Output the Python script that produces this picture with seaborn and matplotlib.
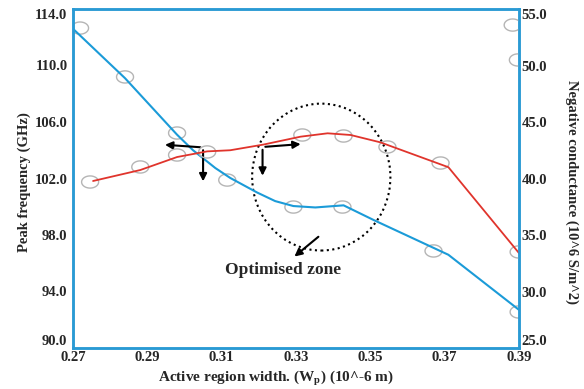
import numpy as np
import pandas as pd
import seaborn as sns
import matplotlib.pyplot as plt
from matplotlib.patches import Ellipse
from matplotlib.path import Path

# line traces
width_blue = [0.270, 0.284, 0.298, 0.3023, 0.3083, 0.3123, 0.3196, 0.3244, 0.3293, 0.3352, 0.3428, 0.3509, 0.371, 0.390]
freq_blue = [112.6, 109.1, 105.1, 104.0, 102.74, 102.04, 101.0, 100.4, 100.05, 99.95, 100.1, 99.06, 96.6, 92.7]
width_red = [0.2754, 0.2881, 0.298, 0.3061, 0.3123, 0.3212, 0.3312, 0.3385, 0.3447, 0.3527, 0.371, 0.390]
cond_red = [39.78, 40.75, 41.9, 42.4, 42.5, 43.0, 43.7, 44.0, 43.85, 43.2, 41.0, 33.4]

# grey circle markers (slightly off the lines in the original)
mk_blue_x = [0.2719, 0.2840, 0.2980, 0.3115, 0.3293, 0.3425, 0.3670, 0.3899]
mk_blue_y = [112.65, 109.19, 105.22, 101.89, 99.98, 99.98, 96.87, 92.55]
mk_red_x = [0.2746, 0.2881, 0.2980, 0.3061, 0.3317, 0.3428, 0.3546, 0.3689, 0.3899, 0.3883, 0.3897]
mk_red_y = [39.69, 41.02, 42.08, 42.35, 43.85, 43.76, 42.79, 41.37, 33.50, 53.58, 50.49]

# axis ticks
x_ticks = [0.27, 0.29, 0.31, 0.33, 0.35, 0.37, 0.39]
freq_ticks = [90, 94, 98, 102, 106, 110, 114]
cond_ticks = [25, 30, 35, 40, 45, 50, 55]

blue = '#1b9bd8'
red = '#e0342c'
spine = '#2a9ad4'
grey = '#b5b5b5'

sns.set_style('white')
plt.rcParams['font.family'] = ['Liberation Serif', 'DejaVu Serif']
plt.rcParams['font.weight'] = 'bold'
plt.rcParams['mathtext.fontset'] = 'custom'
plt.rcParams['mathtext.rm'] = 'Liberation Serif:bold'
plt.rcParams['mathtext.it'] = 'Liberation Serif:bold'

fig = plt.figure(figsize=(5.84, 3.89), dpi=100)
ax = fig.add_axes([73 / 584, 41 / 389, 446 / 584, 339 / 389])
ax2 = ax.twinx()

# ellipse shaped marker
t = np.linspace(0, 2 * np.pi, 60)
oval = Path(np.column_stack([1.4 * np.cos(t), np.sin(t)]))

sns.lineplot(x=width_blue, y=freq_blue, ax=ax, color=blue, lw=1.5)
ax.scatter(mk_blue_x, mk_blue_y, marker=oval, s=150, facecolors='none', edgecolors=grey, lw=1, zorder=1)
sns.lineplot(x=width_red, y=cond_red, ax=ax2, color=red, lw=1.3)
ax2.scatter(mk_red_x, mk_red_y, marker=oval, s=150, facecolors='none', edgecolors=grey, lw=1, zorder=1)

ax.set_xlim(0.27, 0.39)
ax.set_ylim(90, 114)
ax2.set_ylim(25, 55)
ax.set_xticks(x_ticks)
ax.set_xticklabels([f'{v:.2f}' for v in x_ticks])
ax.set_yticks(freq_ticks)
ax.set_yticklabels([f'{v:.1f}' for v in freq_ticks])
ax2.set_yticks(cond_ticks)
ax2.set_yticklabels([f'{v:.1f}' for v in cond_ticks])

ax.tick_params(axis='x', length=0, pad=2, labelsize=10.5)
ax.tick_params(axis='y', length=0, pad=4, labelsize=10.5)
ax2.tick_params(axis='y', length=0, pad=2, labelsize=10.5)

# end labels sit just inside the axis range, as in the original
for a in (ax, ax2):
    labs = a.get_yticklabels()
    labs[0].set_va('bottom')
    labs[-1].set_va('top')
    for s in a.spines.values():
        s.set_color(spine)
        s.set_linewidth(1.8)

ax.set_xlabel('Active region width. (W$_\\mathregular{p}$) (10^-6 m)', fontsize=11, fontweight='bold')
ax.xaxis.set_label_coords(0.455, -0.063)
ax.set_ylabel('Peak frequency (GHz)', fontsize=10.5, fontweight='bold')
ax.yaxis.set_label_coords(-0.094, 0.49)
ax2.set_ylabel('Negative conductance (10^6 S/m^2)', fontsize=10.5, fontweight='bold',
               rotation=270, va='bottom')
ax2.yaxis.set_label_coords(1.103, 0.46)

# optimised zone and arrows
ax.add_patch(Ellipse((0.3368, 102.1), 0.0372, 10.4, fill=False, ec='black', ls=':', lw=1.5))
arr = dict(arrowstyle='-|>', color='black', lw=1.5, mutation_scale=11)
ax.annotate('', xy=(0.294, 104.4), xytext=(0.305, 104.2), arrowprops=arr)
ax.annotate('', xy=(0.305, 101.6), xytext=(0.305, 104.2), arrowprops=arr)
ax.annotate('', xy=(0.332, 104.45), xytext=(0.321, 104.23), arrowprops=arr)
ax.annotate('', xy=(0.321, 102.0), xytext=(0.321, 104.23), arrowprops=arr)
ax.annotate('', xy=(0.3290, 96.35), xytext=(0.3366, 98.0), arrowprops=arr)
ax.text(0.3266, 95.5, 'Optimised zone', ha='center', va='center', fontsize=12.5, fontweight='bold')

fig.savefig('out.png', dpi=100)
